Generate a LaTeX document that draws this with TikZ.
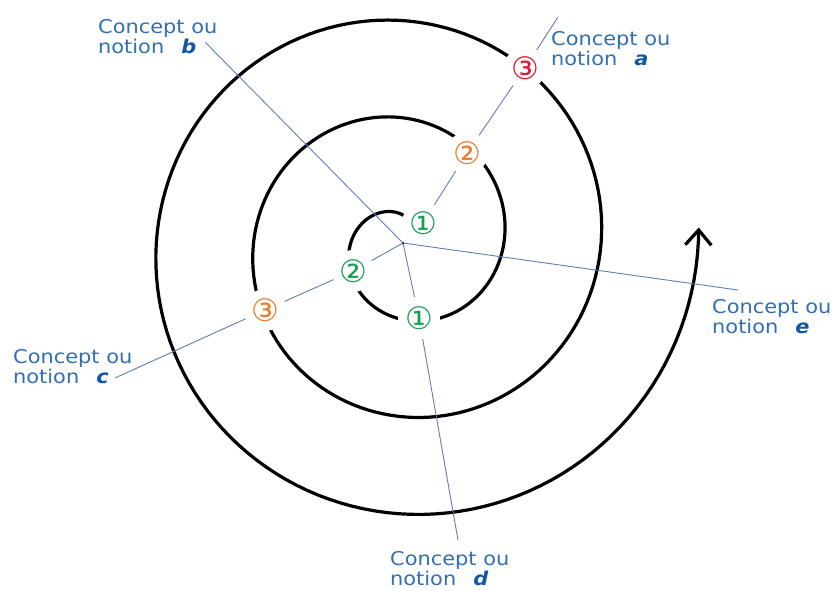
\documentclass[tikz,border=0pt]{standalone}
\usepackage{fontspec}
\usepackage{tikz}
\usetikzlibrary{arrows.meta,backgrounds}

\newfontfamily\labelfont{DejaVu Sans}[FakeStretch=1.1]
\newfontfamily\circfont{DejaVu Sans}

\definecolor{textblue}{RGB}{50,110,180}
\definecolor{letterblue}{RGB}{20,85,165}
\definecolor{lineblue}{RGB}{95,125,180}
\definecolor{stepgreen}{RGB}{20,160,80}
\definecolor{steporange}{RGB}{230,125,40}
\definecolor{stepred}{RGB}{225,20,45}

\tikzset{
  num/.style={circle, fill=white, inner sep=0pt, minimum size=42pt,
    font=\circfont\fontsize{31}{31}\selectfont},
  concept/.style={anchor=base west, inner sep=0pt, align=left, text=textblue,
    font=\labelfont\fontsize{19}{20}\selectfont},
  ray/.style={lineblue, line width=0.9pt},
  spiral/.style={line width=3.2pt, line cap=round,
    -{Straight Barb[length=15pt,width=26pt]}}
}

\newcommand{\cpt}[1]{Concept ou\\notion\hspace{0.9em}{\color{letterblue}\bfseries\itshape #1}}

\begin{document}
\begin{tikzpicture}[x=1pt, y=-1pt]
	\useasboundingbox (0,0) rectangle (835,590);
	
	% centre and numbered steps
	\node[circle, fill=lineblue!60!black, inner sep=0pt, minimum size=3pt] (o) at (403,243) {};
	\node[num, text=stepgreen] (a1) at (423,223) {①};
	\node[num, text=steporange] (a2) at (467,153) {②};
	\node[num, text=stepred] (a3) at (525,68) {③};
	\node[num, text=stepgreen] (c2) at (353,271) {②};
	\node[num, text=steporange] (c3) at (265,310) {③};
	\node[num, text=stepgreen] (d1) at (419,318) {①};
	
	% labels (anchored on the second line)
	\node[concept] (la) at (551,65) {\cpt{a}};
	\node[concept] (lb) at (98,53) {\cpt{b}};
	\node[concept] (lc) at (13,383) {\cpt{c}};
	\node[concept] (ld) at (390,585) {\cpt{d}};
	\node[concept] (le) at (712,333) {\cpt{e}};
	
	\coordinate (ea) at (558,17);
	\coordinate (eb) at (205,42);
	\coordinate (ec) at (115,378);
	\coordinate (ed) at (458,540);
	\coordinate (ee) at (738,290);
	
	\begin{scope}[on background layer]
		\draw[spiral] plot[domain=70:1083, samples=400, variable=\t]
			({403+(28+0.27*(\t-90))*cos(\t)}, {243-(28+0.27*(\t-90))*sin(\t)});
		
		\draw[ray] (a1) -- (a2) -- (a3) -- (ea);
		\draw[ray] (o.center) -- (eb);
		\draw[ray] (o.center) -- (c2) -- (c3) -- (ec);
		\draw[ray] (o.center) -- (d1) -- (ed);
		\draw[ray] (o.center) -- (ee);
	\end{scope}
\end{tikzpicture}
\end{document}
